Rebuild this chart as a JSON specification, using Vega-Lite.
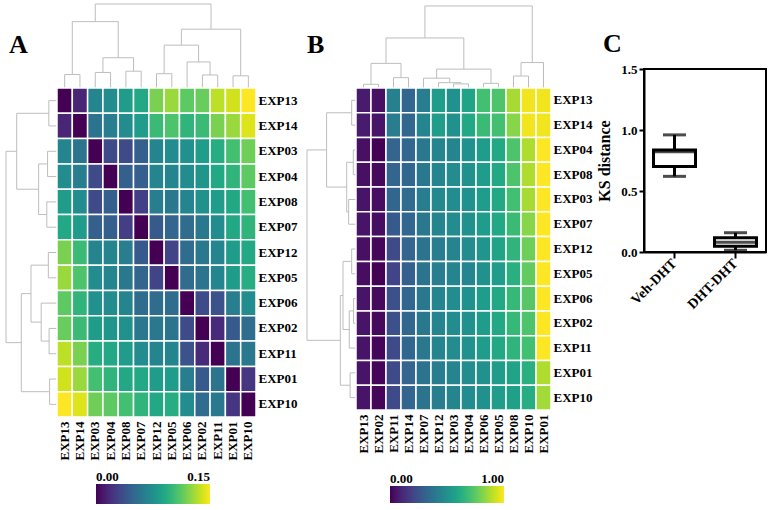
{
"$schema": "https://vega.github.io/schema/vega-lite/v6.json",
"padding": {"left": 5, "top": 3, "right": 0, "bottom": 0},
"background": "white",
"config": {
  "view": {"stroke": null},
  "font": "Liberation Serif",
  "axis": {"labelFont": "Liberation Serif", "labelFontWeight": "bold", "labelColor": "black", "titleFont": "Liberation Serif", "titleFontWeight": "bold", "titleColor": "black"},
  "legend": {"labelFont": "Liberation Serif", "labelFontWeight": "bold", "labelColor": "black", "labelFontSize": 13},
  "title": {"font": "Liberation Serif", "fontWeight": "bold", "color": "black", "fontSize": 26}
},
"datasets": {
  "treeA": [
    {"p1":0.5,"p2":0.5,"h1":0,"h2":0.16},{"p1":1.5,"p2":1.5,"h1":0,"h2":0.16},{"p1":0.5,"p2":1.5,"h1":0.16,"h2":0.16},
    {"p1":2.5,"p2":2.5,"h1":0,"h2":0.185},{"p1":3.5,"p2":3.5,"h1":0,"h2":0.185},{"p1":2.5,"p2":3.5,"h1":0.185,"h2":0.185},
    {"p1":4.5,"p2":4.5,"h1":0,"h2":0.2},{"p1":5.5,"p2":5.5,"h1":0,"h2":0.2},{"p1":4.5,"p2":5.5,"h1":0.2,"h2":0.2},
    {"p1":3,"p2":3,"h1":0.185,"h2":0.36},{"p1":5,"p2":5,"h1":0.2,"h2":0.36},{"p1":3,"p2":5,"h1":0.36,"h2":0.36},
    {"p1":1,"p2":1,"h1":0.16,"h2":0.79},{"p1":4,"p2":4,"h1":0.36,"h2":0.79},{"p1":1,"p2":4,"h1":0.79,"h2":0.79},
    {"p1":6.5,"p2":6.5,"h1":0,"h2":0.17},{"p1":7.5,"p2":7.5,"h1":0,"h2":0.17},{"p1":6.5,"p2":7.5,"h1":0.17,"h2":0.17},
    {"p1":9.5,"p2":9.5,"h1":0,"h2":0.155},{"p1":10.5,"p2":10.5,"h1":0,"h2":0.155},{"p1":9.5,"p2":10.5,"h1":0.155,"h2":0.155},
    {"p1":8.5,"p2":8.5,"h1":0,"h2":0.31},{"p1":10,"p2":10,"h1":0.155,"h2":0.31},{"p1":8.5,"p2":10,"h1":0.31,"h2":0.31},
    {"p1":7,"p2":7,"h1":0.17,"h2":0.51},{"p1":9.25,"p2":9.25,"h1":0.31,"h2":0.51},{"p1":7,"p2":9.25,"h1":0.51,"h2":0.51},
    {"p1":11.5,"p2":11.5,"h1":0,"h2":0.145},{"p1":12.5,"p2":12.5,"h1":0,"h2":0.145},{"p1":11.5,"p2":12.5,"h1":0.145,"h2":0.145},
    {"p1":8.125,"p2":8.125,"h1":0.51,"h2":0.7},{"p1":12,"p2":12,"h1":0.145,"h2":0.7},{"p1":8.125,"p2":12,"h1":0.7,"h2":0.7},
    {"p1":2.5,"p2":2.5,"h1":0.79,"h2":1},{"p1":10.0625,"p2":10.0625,"h1":0.7,"h2":1},{"p1":2.5,"p2":10.0625,"h1":1,"h2":1}
  ],
  "treeBt": [
    {"p1":0.5,"p2":0.5,"h1":0,"h2":0.045},{"p1":1.5,"p2":1.5,"h1":0,"h2":0.045},{"p1":0.5,"p2":1.5,"h1":0.045,"h2":0.045},
    {"p1":2.5,"p2":2.5,"h1":0,"h2":0.126},{"p1":3.5,"p2":3.5,"h1":0,"h2":0.126},{"p1":2.5,"p2":3.5,"h1":0.126,"h2":0.126},
    {"p1":1,"p2":1,"h1":0.045,"h2":0.3},{"p1":3,"p2":3,"h1":0.126,"h2":0.3},{"p1":1,"p2":3,"h1":0.3,"h2":0.3},
    {"p1":6.5,"p2":6.5,"h1":0,"h2":0.05},{"p1":7.5,"p2":7.5,"h1":0,"h2":0.05},{"p1":6.5,"p2":7.5,"h1":0.05,"h2":0.05},
    {"p1":5.5,"p2":5.5,"h1":0,"h2":0.065},{"p1":7,"p2":7,"h1":0.05,"h2":0.065},{"p1":5.5,"p2":7,"h1":0.065,"h2":0.065},
    {"p1":4.5,"p2":4.5,"h1":0,"h2":0.12},{"p1":6.25,"p2":6.25,"h1":0.065,"h2":0.12},{"p1":4.5,"p2":6.25,"h1":0.12,"h2":0.12},
    {"p1":8.5,"p2":8.5,"h1":0,"h2":0.057},{"p1":9.5,"p2":9.5,"h1":0,"h2":0.057},{"p1":8.5,"p2":9.5,"h1":0.057,"h2":0.057},
    {"p1":5.375,"p2":5.375,"h1":0.12,"h2":0.23},{"p1":9,"p2":9,"h1":0.057,"h2":0.23},{"p1":5.375,"p2":9,"h1":0.23,"h2":0.23},
    {"p1":2,"p2":2,"h1":0.3,"h2":0.61},{"p1":7.1875,"p2":7.1875,"h1":0.23,"h2":0.61},{"p1":2,"p2":7.1875,"h1":0.61,"h2":0.61},
    {"p1":10.5,"p2":10.5,"h1":0,"h2":0.146},{"p1":11.5,"p2":11.5,"h1":0,"h2":0.146},{"p1":10.5,"p2":11.5,"h1":0.146,"h2":0.146},
    {"p1":11,"p2":11,"h1":0.146,"h2":0.31},{"p1":12.5,"p2":12.5,"h1":0,"h2":0.31},{"p1":11,"p2":12.5,"h1":0.31,"h2":0.31},
    {"p1":4.59375,"p2":4.59375,"h1":0.61,"h2":1},{"p1":11.75,"p2":11.75,"h1":0.31,"h2":1},{"p1":4.59375,"p2":11.75,"h1":1,"h2":1}
  ],
  "treeBl": [
    {"p1":0.5,"p2":0.5,"h1":0,"h2":0.088},{"p1":1.5,"p2":1.5,"h1":0,"h2":0.088},{"p1":0.5,"p2":1.5,"h1":0.088,"h2":0.088},
    {"p1":2.5,"p2":2.5,"h1":0,"h2":0.055},{"p1":3.5,"p2":3.5,"h1":0,"h2":0.055},{"p1":2.5,"p2":3.5,"h1":0.055,"h2":0.055},
    {"p1":4.5,"p2":4.5,"h1":0,"h2":0.15},{"p1":5.5,"p2":5.5,"h1":0,"h2":0.15},{"p1":4.5,"p2":5.5,"h1":0.15,"h2":0.15},
    {"p1":3,"p2":3,"h1":0.055,"h2":0.19},{"p1":5,"p2":5,"h1":0.15,"h2":0.19},{"p1":3,"p2":5,"h1":0.19,"h2":0.19},
    {"p1":1,"p2":1,"h1":0.088,"h2":0.6},{"p1":4,"p2":4,"h1":0.19,"h2":0.6},{"p1":1,"p2":4,"h1":0.6,"h2":0.6},
    {"p1":6.5,"p2":6.5,"h1":0,"h2":0.088},{"p1":7.5,"p2":7.5,"h1":0,"h2":0.088},{"p1":6.5,"p2":7.5,"h1":0.088,"h2":0.088},
    {"p1":8.5,"p2":8.5,"h1":0,"h2":0.05},{"p1":9.5,"p2":9.5,"h1":0,"h2":0.05},{"p1":8.5,"p2":9.5,"h1":0.05,"h2":0.05},
    {"p1":9,"p2":9,"h1":0.05,"h2":0.137},{"p1":10.5,"p2":10.5,"h1":0,"h2":0.137},{"p1":9,"p2":10.5,"h1":0.137,"h2":0.137},
    {"p1":7,"p2":7,"h1":0.088,"h2":0.265},{"p1":9.75,"p2":9.75,"h1":0.137,"h2":0.265},{"p1":7,"p2":9.75,"h1":0.265,"h2":0.265},
    {"p1":11.5,"p2":11.5,"h1":0,"h2":0.12},{"p1":12.5,"p2":12.5,"h1":0,"h2":0.12},{"p1":11.5,"p2":12.5,"h1":0.12,"h2":0.12},
    {"p1":8.375,"p2":8.375,"h1":0.265,"h2":0.32},{"p1":12,"p2":12,"h1":0.12,"h2":0.32},{"p1":8.375,"p2":12,"h1":0.32,"h2":0.32},
    {"p1":2.5,"p2":2.5,"h1":0.6,"h2":1},{"p1":10.1875,"p2":10.1875,"h1":0.32,"h2":1},{"p1":2.5,"p2":10.1875,"h1":1,"h2":1}
  ],
  "heatA": [
    {"r":"EXP13","c":"EXP13","v":0},{"r":"EXP13","c":"EXP14","v":0.015},{"r":"EXP13","c":"EXP03","v":0.0675},{"r":"EXP13","c":"EXP04","v":0.072},{"r":"EXP13","c":"EXP08","v":0.0825},{"r":"EXP13","c":"EXP07","v":0.09},{"r":"EXP13","c":"EXP12","v":0.12},{"r":"EXP13","c":"EXP05","v":0.1275},{"r":"EXP13","c":"EXP06","v":0.1125},{"r":"EXP13","c":"EXP02","v":0.1155},{"r":"EXP13","c":"EXP11","v":0.135},{"r":"EXP13","c":"EXP01","v":0.1395},{"r":"EXP13","c":"EXP10","v":0.15},
    {"r":"EXP14","c":"EXP13","v":0.015},{"r":"EXP14","c":"EXP14","v":0},{"r":"EXP14","c":"EXP03","v":0.057},{"r":"EXP14","c":"EXP04","v":0.063},{"r":"EXP14","c":"EXP08","v":0.072},{"r":"EXP14","c":"EXP07","v":0.0825},{"r":"EXP14","c":"EXP12","v":0.102},{"r":"EXP14","c":"EXP05","v":0.108},{"r":"EXP14","c":"EXP06","v":0.0975},{"r":"EXP14","c":"EXP02","v":0.102},{"r":"EXP14","c":"EXP11","v":0.12},{"r":"EXP14","c":"EXP01","v":0.1275},{"r":"EXP14","c":"EXP10","v":0.1425},
    {"r":"EXP03","c":"EXP13","v":0.0675},{"r":"EXP03","c":"EXP14","v":0.057},{"r":"EXP03","c":"EXP03","v":0},{"r":"EXP03","c":"EXP04","v":0.033},{"r":"EXP03","c":"EXP08","v":0.033},{"r":"EXP03","c":"EXP07","v":0.045},{"r":"EXP03","c":"EXP12","v":0.0675},{"r":"EXP03","c":"EXP05","v":0.072},{"r":"EXP03","c":"EXP06","v":0.075},{"r":"EXP03","c":"EXP02","v":0.0825},{"r":"EXP03","c":"EXP11","v":0.093},{"r":"EXP03","c":"EXP01","v":0.105},{"r":"EXP03","c":"EXP10","v":0.117},
    {"r":"EXP04","c":"EXP13","v":0.072},{"r":"EXP04","c":"EXP14","v":0.063},{"r":"EXP04","c":"EXP03","v":0.033},{"r":"EXP04","c":"EXP04","v":0},{"r":"EXP04","c":"EXP08","v":0.045},{"r":"EXP04","c":"EXP07","v":0.045},{"r":"EXP04","c":"EXP12","v":0.0675},{"r":"EXP04","c":"EXP05","v":0.0675},{"r":"EXP04","c":"EXP06","v":0.072},{"r":"EXP04","c":"EXP02","v":0.078},{"r":"EXP04","c":"EXP11","v":0.09},{"r":"EXP04","c":"EXP01","v":0.0975},{"r":"EXP04","c":"EXP10","v":0.1125},
    {"r":"EXP08","c":"EXP13","v":0.0825},{"r":"EXP08","c":"EXP14","v":0.072},{"r":"EXP08","c":"EXP03","v":0.033},{"r":"EXP08","c":"EXP04","v":0.045},{"r":"EXP08","c":"EXP08","v":0},{"r":"EXP08","c":"EXP07","v":0.027},{"r":"EXP08","c":"EXP12","v":0.063},{"r":"EXP08","c":"EXP05","v":0.06},{"r":"EXP08","c":"EXP06","v":0.0675},{"r":"EXP08","c":"EXP02","v":0.075},{"r":"EXP08","c":"EXP11","v":0.0825},{"r":"EXP08","c":"EXP01","v":0.09},{"r":"EXP08","c":"EXP10","v":0.105},
    {"r":"EXP07","c":"EXP13","v":0.09},{"r":"EXP07","c":"EXP14","v":0.0825},{"r":"EXP07","c":"EXP03","v":0.045},{"r":"EXP07","c":"EXP04","v":0.045},{"r":"EXP07","c":"EXP08","v":0.027},{"r":"EXP07","c":"EXP07","v":0},{"r":"EXP07","c":"EXP12","v":0.042},{"r":"EXP07","c":"EXP05","v":0.048},{"r":"EXP07","c":"EXP06","v":0.0525},{"r":"EXP07","c":"EXP02","v":0.06},{"r":"EXP07","c":"EXP11","v":0.072},{"r":"EXP07","c":"EXP01","v":0.09},{"r":"EXP07","c":"EXP10","v":0.0975},
    {"r":"EXP12","c":"EXP13","v":0.12},{"r":"EXP12","c":"EXP14","v":0.102},{"r":"EXP12","c":"EXP03","v":0.0675},{"r":"EXP12","c":"EXP04","v":0.0675},{"r":"EXP12","c":"EXP08","v":0.063},{"r":"EXP12","c":"EXP07","v":0.042},{"r":"EXP12","c":"EXP12","v":0},{"r":"EXP12","c":"EXP05","v":0.03},{"r":"EXP12","c":"EXP06","v":0.0525},{"r":"EXP12","c":"EXP02","v":0.06},{"r":"EXP12","c":"EXP11","v":0.0675},{"r":"EXP12","c":"EXP01","v":0.0825},{"r":"EXP12","c":"EXP10","v":0.09},
    {"r":"EXP05","c":"EXP13","v":0.1275},{"r":"EXP05","c":"EXP14","v":0.108},{"r":"EXP05","c":"EXP03","v":0.072},{"r":"EXP05","c":"EXP04","v":0.0675},{"r":"EXP05","c":"EXP08","v":0.06},{"r":"EXP05","c":"EXP07","v":0.048},{"r":"EXP05","c":"EXP12","v":0.03},{"r":"EXP05","c":"EXP05","v":0},{"r":"EXP05","c":"EXP06","v":0.0525},{"r":"EXP05","c":"EXP02","v":0.057},{"r":"EXP05","c":"EXP11","v":0.0675},{"r":"EXP05","c":"EXP01","v":0.0825},{"r":"EXP05","c":"EXP10","v":0.093},
    {"r":"EXP06","c":"EXP13","v":0.1125},{"r":"EXP06","c":"EXP14","v":0.0975},{"r":"EXP06","c":"EXP03","v":0.075},{"r":"EXP06","c":"EXP04","v":0.072},{"r":"EXP06","c":"EXP08","v":0.0675},{"r":"EXP06","c":"EXP07","v":0.0525},{"r":"EXP06","c":"EXP12","v":0.0525},{"r":"EXP06","c":"EXP05","v":0.0525},{"r":"EXP06","c":"EXP06","v":0},{"r":"EXP06","c":"EXP02","v":0.033},{"r":"EXP06","c":"EXP11","v":0.0375},{"r":"EXP06","c":"EXP01","v":0.063},{"r":"EXP06","c":"EXP10","v":0.072},
    {"r":"EXP02","c":"EXP13","v":0.1155},{"r":"EXP02","c":"EXP14","v":0.102},{"r":"EXP02","c":"EXP03","v":0.0825},{"r":"EXP02","c":"EXP04","v":0.078},{"r":"EXP02","c":"EXP08","v":0.075},{"r":"EXP02","c":"EXP07","v":0.06},{"r":"EXP02","c":"EXP12","v":0.06},{"r":"EXP02","c":"EXP05","v":0.057},{"r":"EXP02","c":"EXP06","v":0.033},{"r":"EXP02","c":"EXP02","v":0},{"r":"EXP02","c":"EXP11","v":0.018},{"r":"EXP02","c":"EXP01","v":0.042},{"r":"EXP02","c":"EXP10","v":0.0525},
    {"r":"EXP11","c":"EXP13","v":0.135},{"r":"EXP11","c":"EXP14","v":0.12},{"r":"EXP11","c":"EXP03","v":0.093},{"r":"EXP11","c":"EXP04","v":0.09},{"r":"EXP11","c":"EXP08","v":0.0825},{"r":"EXP11","c":"EXP07","v":0.072},{"r":"EXP11","c":"EXP12","v":0.0675},{"r":"EXP11","c":"EXP05","v":0.0675},{"r":"EXP11","c":"EXP06","v":0.0375},{"r":"EXP11","c":"EXP02","v":0.018},{"r":"EXP11","c":"EXP11","v":0},{"r":"EXP11","c":"EXP01","v":0.057},{"r":"EXP11","c":"EXP10","v":0.06},
    {"r":"EXP01","c":"EXP13","v":0.1395},{"r":"EXP01","c":"EXP14","v":0.1275},{"r":"EXP01","c":"EXP03","v":0.105},{"r":"EXP01","c":"EXP04","v":0.0975},{"r":"EXP01","c":"EXP08","v":0.09},{"r":"EXP01","c":"EXP07","v":0.09},{"r":"EXP01","c":"EXP12","v":0.0825},{"r":"EXP01","c":"EXP05","v":0.0825},{"r":"EXP01","c":"EXP06","v":0.063},{"r":"EXP01","c":"EXP02","v":0.042},{"r":"EXP01","c":"EXP11","v":0.057},{"r":"EXP01","c":"EXP01","v":0},{"r":"EXP01","c":"EXP10","v":0.0225},
    {"r":"EXP10","c":"EXP13","v":0.15},{"r":"EXP10","c":"EXP14","v":0.1425},{"r":"EXP10","c":"EXP03","v":0.117},{"r":"EXP10","c":"EXP04","v":0.1125},{"r":"EXP10","c":"EXP08","v":0.105},{"r":"EXP10","c":"EXP07","v":0.0975},{"r":"EXP10","c":"EXP12","v":0.09},{"r":"EXP10","c":"EXP05","v":0.093},{"r":"EXP10","c":"EXP06","v":0.072},{"r":"EXP10","c":"EXP02","v":0.0525},{"r":"EXP10","c":"EXP11","v":0.06},{"r":"EXP10","c":"EXP01","v":0.0225},{"r":"EXP10","c":"EXP10","v":0}
  ],
  "heatB": [
    {"r":"EXP13","c":"EXP13","v":0.07},{"r":"EXP13","c":"EXP02","v":0.04},{"r":"EXP13","c":"EXP11","v":0.43},{"r":"EXP13","c":"EXP14","v":0.33},{"r":"EXP13","c":"EXP07","v":0.42},{"r":"EXP13","c":"EXP12","v":0.55},{"r":"EXP13","c":"EXP03","v":0.5},{"r":"EXP13","c":"EXP04","v":0.58},{"r":"EXP13","c":"EXP06","v":0.7},{"r":"EXP13","c":"EXP05","v":0.72},{"r":"EXP13","c":"EXP08","v":0.87},{"r":"EXP13","c":"EXP10","v":0.98},{"r":"EXP13","c":"EXP01","v":0.98},
    {"r":"EXP14","c":"EXP13","v":0.07},{"r":"EXP14","c":"EXP02","v":0.05},{"r":"EXP14","c":"EXP11","v":0.42},{"r":"EXP14","c":"EXP14","v":0.33},{"r":"EXP14","c":"EXP07","v":0.45},{"r":"EXP14","c":"EXP12","v":0.55},{"r":"EXP14","c":"EXP03","v":0.5},{"r":"EXP14","c":"EXP04","v":0.6},{"r":"EXP14","c":"EXP06","v":0.68},{"r":"EXP14","c":"EXP05","v":0.7},{"r":"EXP14","c":"EXP08","v":0.82},{"r":"EXP14","c":"EXP10","v":0.98},{"r":"EXP14","c":"EXP01","v":0.98},
    {"r":"EXP04","c":"EXP13","v":0.04},{"r":"EXP04","c":"EXP02","v":0},{"r":"EXP04","c":"EXP11","v":0.32},{"r":"EXP04","c":"EXP14","v":0.33},{"r":"EXP04","c":"EXP07","v":0.4},{"r":"EXP04","c":"EXP12","v":0.45},{"r":"EXP04","c":"EXP03","v":0.45},{"r":"EXP04","c":"EXP04","v":0.5},{"r":"EXP04","c":"EXP06","v":0.55},{"r":"EXP04","c":"EXP05","v":0.6},{"r":"EXP04","c":"EXP08","v":0.72},{"r":"EXP04","c":"EXP10","v":0.88},{"r":"EXP04","c":"EXP01","v":1},
    {"r":"EXP08","c":"EXP13","v":0.04},{"r":"EXP08","c":"EXP02","v":0.02},{"r":"EXP08","c":"EXP11","v":0.32},{"r":"EXP08","c":"EXP14","v":0.33},{"r":"EXP08","c":"EXP07","v":0.4},{"r":"EXP08","c":"EXP12","v":0.45},{"r":"EXP08","c":"EXP03","v":0.48},{"r":"EXP08","c":"EXP04","v":0.5},{"r":"EXP08","c":"EXP06","v":0.55},{"r":"EXP08","c":"EXP05","v":0.6},{"r":"EXP08","c":"EXP08","v":0.72},{"r":"EXP08","c":"EXP10","v":0.88},{"r":"EXP08","c":"EXP01","v":1},
    {"r":"EXP03","c":"EXP13","v":0.05},{"r":"EXP03","c":"EXP02","v":0.03},{"r":"EXP03","c":"EXP11","v":0.33},{"r":"EXP03","c":"EXP14","v":0.35},{"r":"EXP03","c":"EXP07","v":0.42},{"r":"EXP03","c":"EXP12","v":0.47},{"r":"EXP03","c":"EXP03","v":0.48},{"r":"EXP03","c":"EXP04","v":0.5},{"r":"EXP03","c":"EXP06","v":0.55},{"r":"EXP03","c":"EXP05","v":0.6},{"r":"EXP03","c":"EXP08","v":0.7},{"r":"EXP03","c":"EXP10","v":0.87},{"r":"EXP03","c":"EXP01","v":1},
    {"r":"EXP07","c":"EXP13","v":0.05},{"r":"EXP07","c":"EXP02","v":0.03},{"r":"EXP07","c":"EXP11","v":0.28},{"r":"EXP07","c":"EXP14","v":0.33},{"r":"EXP07","c":"EXP07","v":0.4},{"r":"EXP07","c":"EXP12","v":0.45},{"r":"EXP07","c":"EXP03","v":0.48},{"r":"EXP07","c":"EXP04","v":0.5},{"r":"EXP07","c":"EXP06","v":0.55},{"r":"EXP07","c":"EXP05","v":0.6},{"r":"EXP07","c":"EXP08","v":0.68},{"r":"EXP07","c":"EXP10","v":0.82},{"r":"EXP07","c":"EXP01","v":1},
    {"r":"EXP12","c":"EXP13","v":0.04},{"r":"EXP12","c":"EXP02","v":0.01},{"r":"EXP12","c":"EXP11","v":0.22},{"r":"EXP12","c":"EXP14","v":0.32},{"r":"EXP12","c":"EXP07","v":0.38},{"r":"EXP12","c":"EXP12","v":0.42},{"r":"EXP12","c":"EXP03","v":0.45},{"r":"EXP12","c":"EXP04","v":0.48},{"r":"EXP12","c":"EXP06","v":0.52},{"r":"EXP12","c":"EXP05","v":0.58},{"r":"EXP12","c":"EXP08","v":0.65},{"r":"EXP12","c":"EXP10","v":0.78},{"r":"EXP12","c":"EXP01","v":1},
    {"r":"EXP05","c":"EXP13","v":0.03},{"r":"EXP05","c":"EXP02","v":0},{"r":"EXP05","c":"EXP11","v":0.2},{"r":"EXP05","c":"EXP14","v":0.3},{"r":"EXP05","c":"EXP07","v":0.38},{"r":"EXP05","c":"EXP12","v":0.42},{"r":"EXP05","c":"EXP03","v":0.45},{"r":"EXP05","c":"EXP04","v":0.45},{"r":"EXP05","c":"EXP06","v":0.5},{"r":"EXP05","c":"EXP05","v":0.55},{"r":"EXP05","c":"EXP08","v":0.63},{"r":"EXP05","c":"EXP10","v":0.76},{"r":"EXP05","c":"EXP01","v":1},
    {"r":"EXP06","c":"EXP13","v":0.05},{"r":"EXP06","c":"EXP02","v":0.02},{"r":"EXP06","c":"EXP11","v":0.24},{"r":"EXP06","c":"EXP14","v":0.33},{"r":"EXP06","c":"EXP07","v":0.4},{"r":"EXP06","c":"EXP12","v":0.45},{"r":"EXP06","c":"EXP03","v":0.48},{"r":"EXP06","c":"EXP04","v":0.5},{"r":"EXP06","c":"EXP06","v":0.55},{"r":"EXP06","c":"EXP05","v":0.6},{"r":"EXP06","c":"EXP08","v":0.67},{"r":"EXP06","c":"EXP10","v":0.74},{"r":"EXP06","c":"EXP01","v":1},
    {"r":"EXP02","c":"EXP13","v":0.05},{"r":"EXP02","c":"EXP02","v":0.02},{"r":"EXP02","c":"EXP11","v":0.24},{"r":"EXP02","c":"EXP14","v":0.33},{"r":"EXP02","c":"EXP07","v":0.4},{"r":"EXP02","c":"EXP12","v":0.45},{"r":"EXP02","c":"EXP03","v":0.48},{"r":"EXP02","c":"EXP04","v":0.5},{"r":"EXP02","c":"EXP06","v":0.55},{"r":"EXP02","c":"EXP05","v":0.6},{"r":"EXP02","c":"EXP08","v":0.67},{"r":"EXP02","c":"EXP10","v":0.72},{"r":"EXP02","c":"EXP01","v":1},
    {"r":"EXP11","c":"EXP13","v":0.05},{"r":"EXP11","c":"EXP02","v":0.01},{"r":"EXP11","c":"EXP11","v":0.22},{"r":"EXP11","c":"EXP14","v":0.33},{"r":"EXP11","c":"EXP07","v":0.4},{"r":"EXP11","c":"EXP12","v":0.45},{"r":"EXP11","c":"EXP03","v":0.48},{"r":"EXP11","c":"EXP04","v":0.5},{"r":"EXP11","c":"EXP06","v":0.55},{"r":"EXP11","c":"EXP05","v":0.6},{"r":"EXP11","c":"EXP08","v":0.65},{"r":"EXP11","c":"EXP10","v":0.7},{"r":"EXP11","c":"EXP01","v":1},
    {"r":"EXP01","c":"EXP13","v":0.05},{"r":"EXP01","c":"EXP02","v":0.01},{"r":"EXP01","c":"EXP11","v":0.22},{"r":"EXP01","c":"EXP14","v":0.32},{"r":"EXP01","c":"EXP07","v":0.38},{"r":"EXP01","c":"EXP12","v":0.42},{"r":"EXP01","c":"EXP03","v":0.45},{"r":"EXP01","c":"EXP04","v":0.48},{"r":"EXP01","c":"EXP06","v":0.5},{"r":"EXP01","c":"EXP05","v":0.55},{"r":"EXP01","c":"EXP08","v":0.58},{"r":"EXP01","c":"EXP10","v":0.63},{"r":"EXP01","c":"EXP01","v":0.88},
    {"r":"EXP10","c":"EXP13","v":0.05},{"r":"EXP10","c":"EXP02","v":0.01},{"r":"EXP10","c":"EXP11","v":0.22},{"r":"EXP10","c":"EXP14","v":0.32},{"r":"EXP10","c":"EXP07","v":0.38},{"r":"EXP10","c":"EXP12","v":0.42},{"r":"EXP10","c":"EXP03","v":0.45},{"r":"EXP10","c":"EXP04","v":0.48},{"r":"EXP10","c":"EXP06","v":0.5},{"r":"EXP10","c":"EXP05","v":0.55},{"r":"EXP10","c":"EXP08","v":0.57},{"r":"EXP10","c":"EXP10","v":0.62},{"r":"EXP10","c":"EXP01","v":0.86}
  ],
  "box": [
    {"g":"Veh-DHT","lo":0.62,"q1":0.70,"med":0.822,"q3":0.836,"hi":0.96},
    {"g":"DHT-DHT","lo":0.014,"q1":0.047,"med":0.08,"q3":0.117,"hi":0.158}
  ]
},
"columns": 7,
"spacing": 0,
"bounds": "flush",
"align": "none",
"resolve": {"scale": {"color": "independent"}, "legend": {"color": "independent"}},
"concat": [
  {"width": 51, "height": 65, "title": {"text": "A", "orient": "bottom", "anchor": "start", "frame": "group", "offset": -16, "dx": 3, "baseline": "alphabetic"}, "data": {"values": []}, "mark": "point", "encoding": {}},
  {"width": 199, "height": 65, "data": {"name": "treeA"}, "mark": {"type": "rule", "color": "#bdbdbd", "strokeWidth": 1},
   "encoding": {"x": {"field": "p1", "type": "quantitative", "scale": {"domain": [0, 13], "nice": false, "zero": false}, "axis": null}, "x2": {"field": "p2"},
                "y": {"field": "h1", "type": "quantitative", "scale": {"domain": [0.226, 1], "nice": false, "zero": false}, "axis": null}, "y2": {"field": "h2"}}},
  {"width": 51, "height": 65, "data": {"values": []}, "mark": "point", "encoding": {}},
  {"width": 49, "height": 65, "title": {"text": "B", "orient": "bottom", "anchor": "start", "frame": "group", "offset": -16, "dx": 0, "baseline": "alphabetic"}, "data": {"values": []}, "mark": "point", "encoding": {}},
  {"width": 195, "height": 65, "data": {"name": "treeBt"}, "mark": {"type": "rule", "color": "#bdbdbd", "strokeWidth": 1},
   "encoding": {"x": {"field": "p1", "type": "quantitative", "scale": {"domain": [0, 13], "nice": false, "zero": false}, "axis": null}, "x2": {"field": "p2"},
                "y": {"field": "h1", "type": "quantitative", "scale": {"domain": [0.2316, 1.024], "nice": false, "zero": false}, "axis": null}, "y2": {"field": "h2"}}},
  {"width": 93, "height": 65, "data": {"values": []}, "mark": "point", "encoding": {}},
  {"width": 122, "height": 65, "title": {"text": "C", "orient": "bottom", "anchor": "start", "frame": "group", "offset": -17, "dx": -41, "baseline": "alphabetic"}, "data": {"values": []}, "mark": "point", "encoding": {}},

  {"width": 51, "height": 348, "data": {"name": "treeA"}, "mark": {"type": "rule", "color": "#bdbdbd", "strokeWidth": 1},
   "encoding": {"y": {"field": "p1", "type": "quantitative", "scale": {"domain": [-0.7508, 13], "nice": false, "zero": false, "reverse": true}, "axis": null}, "y2": {"field": "p2"},
                "x": {"field": "h1", "type": "quantitative", "scale": {"domain": [0, 1], "nice": false, "reverse": true}, "axis": null}, "x2": {"field": "h2"}}},
  {"width": 199, "height": 348, "data": {"name": "heatA"}, "mark": {"type": "rect", "stroke": "white", "strokeWidth": 1.5},
   "encoding": {
     "x": {"field": "c", "type": "nominal", "sort": ["EXP13","EXP14","EXP03","EXP04","EXP08","EXP07","EXP12","EXP05","EXP06","EXP02","EXP11","EXP01","EXP10"],
           "axis": {"title": null, "labelAngle": -90, "ticks": false, "domain": false, "labelFontSize": 13, "labelPadding": 4}},
     "y": {"field": "r", "type": "nominal", "sort": ["EXP13","EXP14","EXP03","EXP04","EXP08","EXP07","EXP12","EXP05","EXP06","EXP02","EXP11","EXP01","EXP10"],
           "scale": {"paddingInner": 0, "paddingOuter": 0.3754, "align": 1},
           "axis": {"orient": "right", "title": null, "ticks": false, "domain": false, "labelFontSize": 13, "labelPadding": 2}},
     "color": {"field": "v", "type": "quantitative", "scale": {"scheme": "viridis", "domain": [0, 0.15]},
               "legend": {"orient": "none", "legendX": 39, "legendY": 415, "direction": "horizontal", "gradientLength": 114, "gradientThickness": 20, "title": null, "values": [0, 0.15], "format": ".2f", "labelOffset": -33, "labelOverlap": false}}
   }},
  {"width": 51, "height": 1, "data": {"values": []}, "mark": "point", "encoding": {}},
  {"width": 49, "height": 341, "data": {"name": "treeBl"}, "mark": {"type": "rule", "color": "#bdbdbd", "strokeWidth": 1},
   "encoding": {"y": {"field": "p1", "type": "quantitative", "scale": {"domain": [-0.767, 13], "nice": false, "zero": false, "reverse": true}, "axis": null}, "y2": {"field": "p2"},
                "x": {"field": "h1", "type": "quantitative", "scale": {"domain": [0, 1], "nice": false, "reverse": true}, "axis": null}, "x2": {"field": "h2"}}},
  {"width": 195, "height": 341, "data": {"name": "heatB"}, "mark": {"type": "rect", "stroke": "white", "strokeWidth": 1.5},
   "encoding": {
     "x": {"field": "c", "type": "nominal", "sort": ["EXP13","EXP02","EXP11","EXP14","EXP07","EXP12","EXP03","EXP04","EXP06","EXP05","EXP08","EXP10","EXP01"],
           "axis": {"title": null, "labelAngle": -90, "ticks": false, "domain": false, "labelFontSize": 13, "labelPadding": 4}},
     "y": {"field": "r", "type": "nominal", "sort": ["EXP13","EXP14","EXP04","EXP08","EXP03","EXP07","EXP12","EXP05","EXP06","EXP02","EXP11","EXP01","EXP10"],
           "scale": {"paddingInner": 0, "paddingOuter": 0.3835, "align": 1},
           "axis": {"orient": "right", "title": null, "ticks": false, "domain": false, "labelFontSize": 13, "labelPadding": 2}},
     "color": {"field": "v", "type": "quantitative", "scale": {"scheme": "viridis", "domain": [0, 1]},
               "legend": {"orient": "none", "legendX": 34, "legendY": 417, "direction": "horizontal", "gradientLength": 114, "gradientThickness": 17, "title": null, "values": [0, 1], "format": ".2f", "labelOffset": -30, "labelOverlap": false}}
   }},
  {"width": 93, "height": 1, "data": {"values": []}, "mark": "point", "encoding": {}},
  {"width": 122, "height": 183, "data": {"name": "box"}, "view": {"stroke": "black", "strokeWidth": 2},
   "encoding": {"x": {"field": "g", "type": "nominal", "sort": ["Veh-DHT", "DHT-DHT"], "scale": {"paddingInner": 0, "paddingOuter": 0},
                      "axis": {"title": null, "labelAngle": -45, "labelAlign": "right", "labelBaseline": "middle", "labelFontSize": 14, "tickSize": 6, "tickWidth": 2, "tickColor": "black", "domainColor": "black", "domainWidth": 2, "labelPadding": 3}}},
   "layer": [
     {"mark": {"type": "rule", "color": "black", "strokeWidth": 3},
      "encoding": {"y": {"field": "lo", "type": "quantitative", "title": "KS distance", "scale": {"domain": [0, 1.5], "nice": false},
                         "axis": {"values": [0, 0.5, 1, 1.5], "format": ".1f", "grid": false, "labelFontSize": 13, "titleFontSize": 16, "tickSize": 5, "tickWidth": 2, "tickColor": "black", "domainColor": "black", "domainWidth": 2, "labelPadding": 2, "titlePadding": 8}},
                   "y2": {"field": "hi"}}},
     {"mark": {"type": "bar", "fill": "white", "stroke": "black", "strokeWidth": 3, "size": 42},
      "encoding": {"y": {"field": "q1", "type": "quantitative", "title": "KS distance"}, "y2": {"field": "q3"}}},
     {"mark": {"type": "tick", "color": "black", "thickness": 3, "size": 42},
      "encoding": {"y": {"field": "med", "type": "quantitative", "title": "KS distance"}}},
     {"mark": {"type": "tick", "color": "black", "thickness": 3, "size": 23},
      "encoding": {"y": {"field": "lo", "type": "quantitative", "title": "KS distance"}}},
     {"mark": {"type": "tick", "color": "black", "thickness": 3, "size": 23},
      "encoding": {"y": {"field": "hi", "type": "quantitative", "title": "KS distance"}}}
   ]}
]
}
